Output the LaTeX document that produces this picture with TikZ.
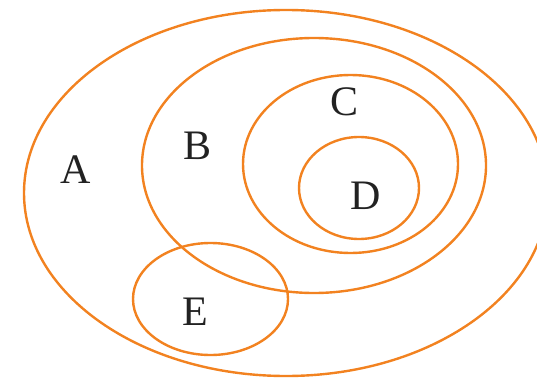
\documentclass[tikz,border=0pt]{standalone}
\usepackage{fontspec}
\setmainfont{Liberation Serif}
\definecolor{vorange}{RGB}{242,130,32}
\definecolor{vtext}{RGB}{34,34,34}
\tikzset{
  setline/.style={draw=vorange, line width=2.4pt},
  setlabel/.style={text=vtext, font=\fontsize{42}{42}\selectfont, inner sep=0pt}
}
\begin{document}
\begin{tikzpicture}[x=1pt,y=-1pt]
\useasboundingbox (0,0) rectangle (537,377);
\draw[setline] (286,193) ellipse [x radius=262, y radius=183];
\draw[setline] (314,165.5) ellipse [x radius=172, y radius=127.5];
\draw[setline] (350.5,164) ellipse [x radius=107.5, y radius=89];
\draw[setline] (359,188) ellipse [x radius=60, y radius=51];
\draw[setline] (210.5,299) ellipse [x radius=77.5, y radius=56];
\node[setlabel] (lA) at (76,170) {A};
\node[setlabel] (lB) at (197.5,146) {B};
\node[setlabel] (lC) at (344,102) {C};
\node[setlabel] (lD) at (366,196) {D};
\node[setlabel] (lE) at (195.5,312) {E};
\end{tikzpicture}
\end{document}
